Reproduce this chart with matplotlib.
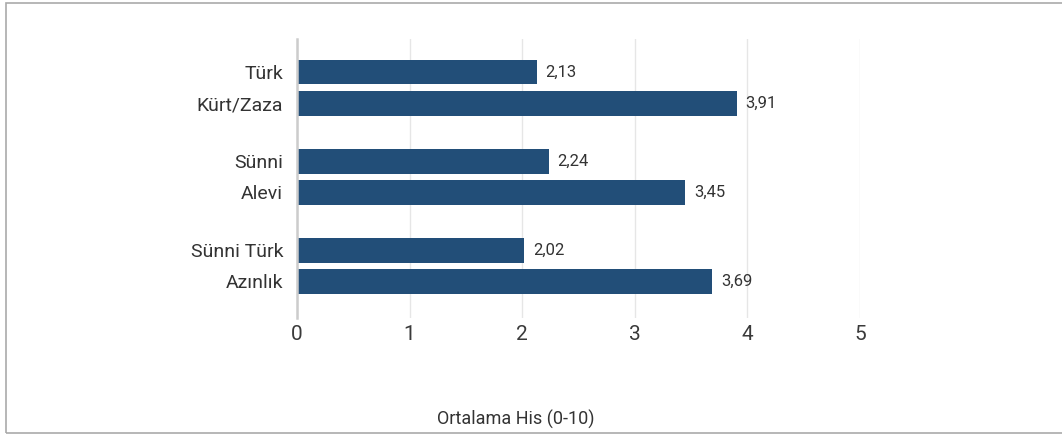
import matplotlib.pyplot as plt
import matplotlib as mpl
from matplotlib.patches import Rectangle

mpl.rcParams["font.family"] = ["Liberation Sans Narrow", "Roboto", "DejaVu Sans"]

# ===== data =====
groups = [["Türk", "Kürt/Zaza"], ["Sünni", "Alevi"], ["Sünni Türk", "Azınlık"]]
values = [[2.13, 3.91], [2.24, 3.45], [2.02, 3.69]]
xticks = [0, 1, 2, 3, 4, 5]
xlabel = "Ortalama His (0-10)"

BAR = "#224e78"
TXT = "#333333"
GROUP_STEP = 2.87

labels, vals, ypos = [], [], []
for gi, (g, v) in enumerate(zip(groups, values)):
    for j, (lab, val) in enumerate(zip(g, v)):
        labels.append(lab)
        vals.append(val)
        ypos.append(gi * GROUP_STEP + j)

fig = plt.figure(figsize=(10.62, 4.36), dpi=100)
ax = fig.add_axes([297 / 1062, 1 - 318 / 436, (860 - 297) / 1062, (318 - 39) / 436])

ax.barh(ypos, vals, height=0.8, color=BAR, zorder=3)
for y, v in zip(ypos, vals):
    ax.annotate(f"{v:.2f}".replace(".", ","), (v, y), xytext=(6, 0),
                textcoords="offset points", va="center", ha="left",
                fontsize=12, color=TXT)

ax.set_xlim(0, 5)
ax.set_ylim(ypos[-1] + 1.18, -1.065)
ax.set_xticks(xticks)
ax.set_xticklabels([str(t) for t in xticks], fontsize=15, color="#3a3a3a")
ax.set_yticks(ypos)
ax.set_yticklabels(labels, fontsize=14, color=TXT)
ax.tick_params(axis="both", length=0)
ax.tick_params(axis="x", pad=5)
ax.tick_params(axis="y", pad=10)
ax.grid(axis="x", color="#e6e6e6", linewidth=1, zorder=0)
for s in ["top", "right", "bottom"]:
    ax.spines[s].set_visible(False)
ax.spines["left"].set_color("#cccccc")
ax.spines["left"].set_linewidth(1.8)
ax.spines["left"].set_zorder(4)

fig.text(515.5 / 1062, 1 - 419 / 436, xlabel, ha="center", va="center",
         fontsize=13, color=TXT)

# outer frame
fig.patches.append(Rectangle((6 / 1062, 3 / 436), 1.1, 1 - 6 / 436,
                             transform=fig.transFigure, fill=False,
                             edgecolor="#aaaaaa", linewidth=1.2))

fig.savefig("out.png", dpi=100)
